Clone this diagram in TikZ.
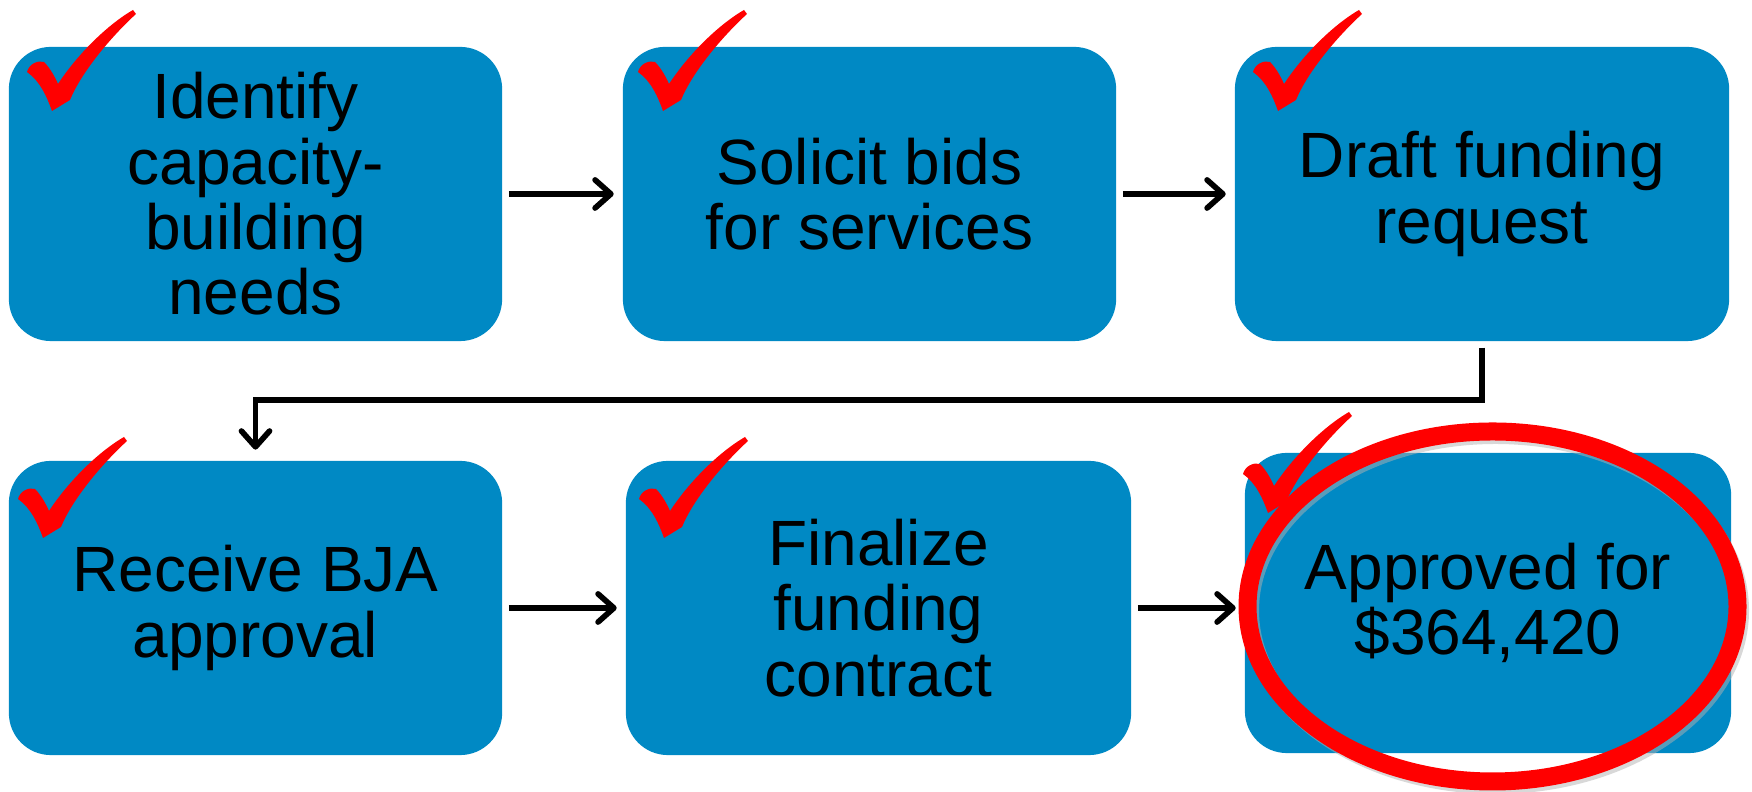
\documentclass[tikz,border=0pt]{standalone}
\usepackage{fontspec}
\setmainfont{Liberation Sans}
\usetikzlibrary{arrows.meta,calc}

\definecolor{boxblue}{RGB}{0,137,196}

\tikzset{
  stepbox/.style={fill=boxblue, rounded corners=0.42cm, minimum width=4.93cm,
    minimum height=2.94cm, align=center, inner sep=0pt,
    font=\fontsize{18.2}{18.6}\selectfont},
  flow/.style={line width=1.5pt,
    -{Straight Barb[length=4.5pt,width=8pt,line width=1.6pt,round]},
    shorten <=1.7pt, shorten >=2.4pt},
  checkmark/.pic={
    \fill[red] (0,0) .. controls (-5,14) and (-12,30) .. (-25,39)
      .. controls (-23,47) and (-14,51) .. (-8,49)
      .. controls (-2,43) and (3,34) .. (6,27)
      .. controls (25,56) and (55,86) .. (81,101) -- (84,97)
      .. controls (60,75) and (30,40) .. (18,11) -- cycle;
  }
}

\begin{document}
\begin{tikzpicture}[x=0.01cm,y=0.01cm]
  \useasboundingbox (0,0) rectangle (1752,792);

  %premiere ligne
  \node[stepbox] (identify) at (255.5,598) {Identify\\capacity-\\building\\needs};
  \node[stepbox] (solicit) at (869.5,598) {Solicit bids\\for services};
  \node[stepbox, minimum width=4.94cm] (draft) at (1482,598) {Draft funding\\request};

  %deuxieme ligne
  \node[stepbox] (receive) at (255.5,184) {Receive BJA\\approval};
  \node[stepbox, minimum width=5.05cm] (finalize) at (878.5,184) {Finalize\\funding\\contract};
  \node[stepbox, minimum width=4.86cm, minimum height=3cm] (approved) at (1488,189) {Approved for\\\$364,420};

  %fleches
  \draw[flow] (identify) -- (solicit);
  \draw[flow] (solicit) -- (draft);
  \draw[flow] (receive) -- (finalize);
  \draw[flow] (finalize.east) -- (finalize.east -| approved.west);

  %retour a la ligne
  \coordinate (elbow) at (800,392);
  \draw[flow, shorten >=3pt] (draft.south) |- (elbow) -| (receive.north);

  %coches
  \pic at (52,681) {checkmark};
  \pic at (663,681) {checkmark};
  \pic at (1278,681) {checkmark};
  \pic at (43,254) {checkmark};
  \pic at (664,254) {checkmark};
  \pic at (1268,279) {checkmark};

  %cercle rouge
  \draw[black!30, opacity=0.5, line width=0.17cm] (1495.5,181.5) ellipse [x radius=245, y radius=175];
  \draw[red, line width=0.18cm] (1492.5,185.5) ellipse [x radius=245, y radius=175];
\end{tikzpicture}
\end{document}
